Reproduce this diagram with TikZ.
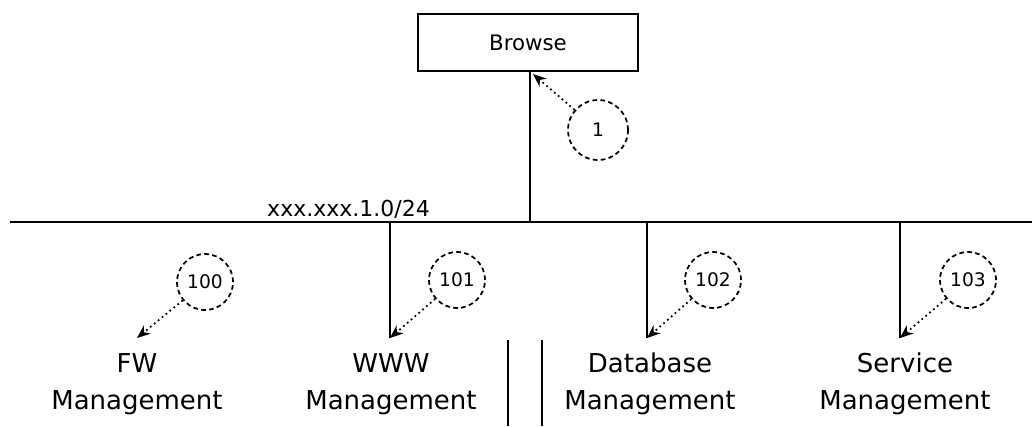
\documentclass[tikz,border=0pt]{standalone}
\usepackage{fontspec}
\setmainfont{DejaVu Sans}
\usetikzlibrary{arrows.meta}
\begin{document}
\begin{tikzpicture}[x=0.75pt,y=-0.75pt,
  wire/.style={line width=1.6pt},
  boxnode/.style={draw,line width=1.6pt,minimum width=165pt,minimum height=42.75pt,inner sep=0pt,font=\fontsize{16}{19}\selectfont},
  callout/.style={circle,draw,line width=1.3pt,dash pattern=on 3.5pt off 2.5pt,minimum size=42pt,inner sep=0pt,font=\fontsize{14}{16}\selectfont},
  pointer/.style={line width=1.3pt,dash pattern=on 1.3pt off 2.5pt,-{Stealth[length=10pt,width=8pt]}},
  label/.style={align=center,font=\fontsize{19.5}{28}\selectfont,inner sep=0pt},
  buslabel/.style={font=\fontsize{16.5}{19}\selectfont,inner sep=0pt,anchor=base east}]
\useasboundingbox (0,0) rectangle (1032,426);
% top box
\node[boxnode] (browse) at (528,42.5) {Browse};
% bus
\coordinate (busL) at (10,222);
\coordinate (busR) at (1032,222);
\draw[wire] (busL) -- (busR);
\coordinate (jtop) at (530,222);
\draw[wire] (browse.south -| jtop) -- (jtop);
\node[buslabel] (bl) at (430,216) {xxx.xxx.1.0/24};
% drops
\coordinate (jw) at (390,222);
\coordinate (ew) at (390,338);
\coordinate (jd) at (647,222);
\coordinate (ed) at (647,338);
\coordinate (js) at (900,222);
\coordinate (es) at (900,338);
\coordinate (ef) at (137,338);
\draw[wire] (jw) -- (ew);
\draw[wire] (jd) -- (ed);
\draw[wire] (js) -- (es);
% callouts
\node[callout,minimum size=45pt] (c1) at (598,130) {1};
\node[callout] (c100) at (205,282) {100};
\node[callout] (c101) at (457,280) {101};
\node[callout] (c102) at (713,280) {102};
\node[callout] (c103) at (968,280) {103};
\coordinate (tb) at (533,74);
\draw[pointer] (c1) -- (tb);
\draw[pointer] (c100) -- (ef);
\draw[pointer] (c101) -- (ew);
\draw[pointer] (c102) -- (ed);
\draw[pointer] (c103) -- (es);
% labels
\node[label] (lf) at (137,384) {FW\\Management};
\node[label] (lw) at (391,384) {WWW\\Management};
\node[label] (ld) at (650,384) {Database\\Management};
\node[label] (ls) at (905,384) {Service\\Management};
% break marks
\coordinate (b1t) at (508,340);
\coordinate (b1b) at (508,426);
\coordinate (b2t) at (542,340);
\coordinate (b2b) at (542,426);
\draw[wire] (b1t) -- (b1b);
\draw[wire] (b2t) -- (b2b);
\end{tikzpicture}
\end{document}
